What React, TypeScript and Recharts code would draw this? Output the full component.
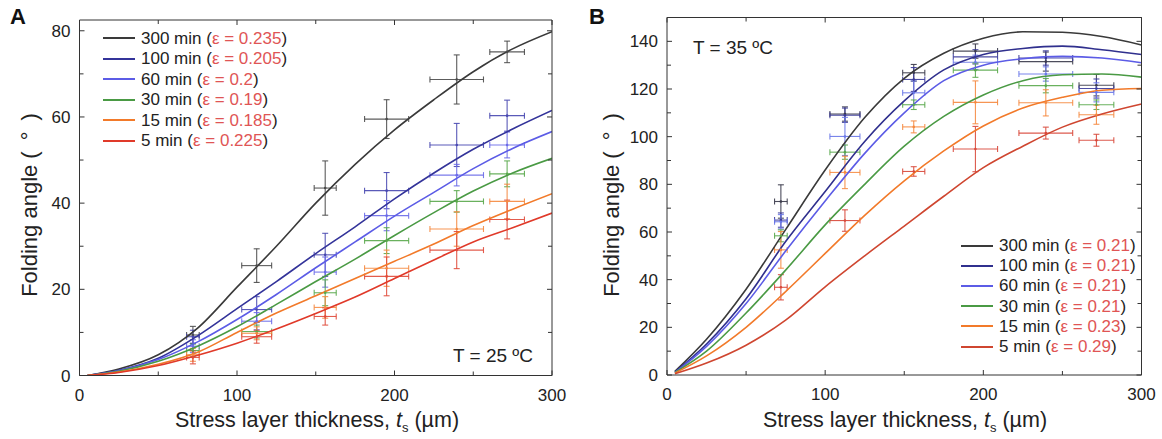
import React from 'react';
import { ComposedChart, Line, Scatter, ErrorBar, XAxis, YAxis } from 'recharts';

const FONT = '"Liberation Sans", Arial, Helvetica, sans-serif';
const TEXT = '#222';
const AXIS = '#333';
const EPS_RED = '#e05555';

const seriesLabels = ['300 min', '100 min', '60 min', '30 min', '15 min', '5 min'];
const epsilonA = ['0.235', '0.205', '0.2', '0.19', '0.185', '0.225'];
const epsilonB = ['0.21', '0.21', '0.21', '0.21', '0.23', '0.29'];

const colorsA = ['#3a3a3a', '#34349a', '#5c5ce6', '#4a9a44', '#f27a2a', '#e03a2a'];
const colorsB = ['#3a3a3a', '#30308e', '#5c5ce6', '#4a9a44', '#f27a2a', '#cf4630'];
const barColorsA = ['#4a4a4a', '#4848b0', '#6a6ae8', '#5aa84c', '#f58a40', '#e04a3a'];
const barColorsB = ['#3a3a4a', '#3a3a9a', '#6a78e8', '#5aa84c', '#f58a40', '#d8483a'];

const xTicks = [0, 50, 100, 150, 200, 250, 300];
const yTicksA = [0, 10, 20, 30, 40, 50, 60, 70, 80];
const yTicksB = [0, 10, 20, 30, 40, 50, 60, 70, 80, 90, 100, 110, 120, 130, 140, 150];

// model curves (x in µm)
const fitX = [5, 25, 50, 75, 100, 125, 150, 175, 200, 225, 250, 275, 300];
const fitA300 = [0, 1.5, 4.8, 11, 20.5, 30, 40, 49, 57, 64, 70.5, 75.8, 79.8];
const fitA100 = [0, 1.2, 4, 9.2, 15.5, 21.8, 28.3, 34.5, 41, 47, 52.5, 57.2, 61.5];
const fitA60 = [0, 1.1, 3.7, 7.8, 13, 18.8, 25, 31, 37, 42.5, 48, 52.7, 56.6];
const fitA30 = [0, 1, 3.3, 6.8, 11.3, 16.5, 21.8, 27, 32.5, 37.8, 42.8, 47, 50.4];
const fitA15 = [0, 0.8, 2.6, 5.4, 10, 14.5, 18.5, 22.5, 26.5, 30.5, 34.8, 38.6, 42.2];
const fitA5 = [0, 0.7, 2.3, 4.7, 7.5, 10.8, 14.4, 18.2, 22.5, 26.8, 31, 34.3, 37.7];

const fitB300 = [1.5, 15, 36, 61, 86, 108, 124.5, 135, 141.3, 144, 143.8, 142, 138.5];
const fitB100 = [1.2, 13, 32, 56, 77, 98, 115, 128, 134.5, 137, 138, 136.5, 134.5];
const fitB60 = [1, 12, 30, 52, 73, 93, 110, 123.5, 130, 132.7, 133.7, 133, 131];
const fitB30 = [1, 10, 26, 44, 63, 80, 96, 108.5, 117.5, 123.5, 126, 126.3, 125];
const fitB15 = [0.8, 8, 20, 35, 51, 67, 81.5, 94, 104.5, 112, 116.5, 119.5, 120.2];
const fitB5 = [0.5, 5, 12.5, 23, 37, 50, 62.5, 75, 87, 96, 104, 109.5, 113.7];

// measurements
const pointX = [72, 112.5, 156, 195, 239.5, 271.5];
const pointXErr = [4, 9.5, 7, 14, 17, 11];

const ptsA300 = [9.4, 25.5, 43.5, 59.5, 68.7, 75.1];
const errA300 = [2, 3.9, 6.3, 4.5, 5.7, 2.5];
const ptsA100 = [9.0, 15.3, 28, 42.9, 53.5, 60.3];
const errA100 = [1.5, 3, 5, 4.2, 5, 3.6];
const ptsA60 = [6.8, 12.6, 24, 37.1, 46.5, 53.5];
const errA60 = [1.5, 2, 3.5, 3.5, 2.5, 3];
const ptsA30 = [5.8, 10.2, 19.2, 31.3, 40.4, 46.8];
const errA30 = [1.5, 1.5, 3, 3, 2.5, 3];
const ptsA15 = [4.8, 9.8, 15.8, 24.9, 34, 40.4];
const errA15 = [1.5, 1.5, 2.5, 4.2, 4, 4];
const ptsA5 = [4.2, 9.0, 13.7, 23, 29.1, 36.2];
const errA5 = [1.5, 1.5, 2, 4.5, 4.3, 4.5];

const ptsB300 = [72.8, 109.5, 126.8, 135.9, 131.5, 121.6];
const errB300 = [7, 3, 3.5, 3, 4, 4.5];
const ptsB100 = [65, 109, 124, 133.5, 133, 120.2];
const errB100 = [3, 3, 5, 3, 3, 4];
const ptsB60 = [64.3, 100.1, 118.4, 131.2, 126.3, 118.6];
const errB60 = [3, 8, 5, 3, 3, 4];
const ptsB30 = [58.4, 93.5, 113.4, 127.9, 121.4, 113.4];
const errB30 = [2.5, 3, 2, 3, 3, 2];
const ptsB15 = [52.5, 85, 104.1, 114.4, 114.2, 109.2];
const errB15 = [7.7, 6.8, 2.5, 9, 5.5, 4];
const ptsB5 = [36.8, 64.8, 85.4, 94.8, 101.5, 98.5];
const errB5 = [5.3, 4.5, 2, 9.5, 2.5, 2.5];

const toFit = (ys: number[]) => fitX.map((x, i) => ({ x, y: ys[i] }));
const toPts = (ys: number[], es: number[]) =>
  pointX.map((x, i) => ({ x, y: ys[i], ey: es[i], ex: pointXErr[i] }));

const fitsA = [fitA300, fitA100, fitA60, fitA30, fitA15, fitA5].map(toFit);
const fitsB = [fitB300, fitB100, fitB60, fitB30, fitB15, fitB5].map(toFit);
const pointsA = [
  toPts(ptsA300, errA300), toPts(ptsA100, errA100), toPts(ptsA60, errA60),
  toPts(ptsA30, errA30), toPts(ptsA15, errA15), toPts(ptsA5, errA5),
];
const pointsB = [
  toPts(ptsB300, errB300), toPts(ptsB100, errB100), toPts(ptsB60, errB60),
  toPts(ptsB30, errB30), toPts(ptsB15, errB15), toPts(ptsB5, errB5),
];

const MAJOR_LEN = 5;
const MINOR_LEN = 4;

const bottomTick = (major: number) => (p: any) => {
  const v = p.payload.value;
  const isMajor = v % major === 0;
  return (
    <g>
      <line x1={p.x} x2={p.x} y1={p.y} y2={p.y - (isMajor ? MAJOR_LEN : MINOR_LEN)} stroke={AXIS} strokeWidth={1} />
      {isMajor && (
        <text x={p.x} y={p.y + 25} textAnchor="middle" fontSize={17} fill={TEXT} fontFamily={FONT}>
          {v}
        </text>
      )}
    </g>
  );
};
const topTick = (major: number) => (p: any) => {
  const v = p.payload.value;
  const isMajor = v % major === 0;
  return <line x1={p.x} x2={p.x} y1={p.y} y2={p.y + (isMajor ? MAJOR_LEN : MINOR_LEN)} stroke={AXIS} strokeWidth={1} />;
};
const leftTick = (major: number) => (p: any) => {
  const v = p.payload.value;
  const isMajor = v % major === 0;
  return (
    <g>
      <line x1={p.x} x2={p.x + (isMajor ? MAJOR_LEN : MINOR_LEN)} y1={p.y} y2={p.y} stroke={AXIS} strokeWidth={1} />
      {isMajor && (
        <text x={p.x - 9} y={p.y + 6} textAnchor="end" fontSize={17} fill={TEXT} fontFamily={FONT}>
          {v}
        </text>
      )}
    </g>
  );
};
const rightTick = (major: number) => (p: any) => {
  const v = p.payload.value;
  const isMajor = v % major === 0;
  return <line x1={p.x} x2={p.x - (isMajor ? MAJOR_LEN : MINOR_LEN)} y1={p.y} y2={p.y} stroke={AXIS} strokeWidth={1} />;
};

const dotShape = (color: string) => (p: any) => <circle cx={p.cx} cy={p.cy} r={1.3} fill={color} />;

type PanelProps = {
  width: number;
  height: number;
  plot: { top: number; right: number; bottom: number; left: number };
  yMax: number;
  yTicks: number[];
  fits: { x: number; y: number }[][];
  points: { x: number; y: number; ey: number; ex: number }[][];
  colors: string[];
  barColors: string[];
};

function Panel({ width, height, plot, yMax, yTicks, fits, points, colors, barColors }: PanelProps) {
  const axisLine = { stroke: AXIS, strokeWidth: 1 };
  // each axis takes 1px, so subtract it from the margins
  const margin = { top: plot.top - 1, right: plot.right - 1, bottom: plot.bottom - 1, left: plot.left - 1 };
  return (
    <ComposedChart width={width} height={height} margin={margin}>
      <XAxis xAxisId="b" type="number" dataKey="x" domain={[0, 300]} ticks={xTicks} interval={0}
        height={1} tickSize={0} tickMargin={0} axisLine={axisLine} tick={bottomTick(100)} allowDataOverflow />
      <XAxis xAxisId="t" orientation="top" type="number" dataKey="x" domain={[0, 300]} ticks={xTicks} interval={0}
        height={1} tickSize={0} tickMargin={0} axisLine={axisLine} tick={topTick(100)} allowDataOverflow />
      <YAxis yAxisId="l" type="number" domain={[0, yMax]} ticks={yTicks} interval={0}
        width={1} tickSize={0} tickMargin={0} axisLine={axisLine} tick={leftTick(20)} allowDataOverflow />
      <YAxis yAxisId="r" orientation="right" type="number" domain={[0, yMax]} ticks={yTicks} interval={0}
        width={1} tickSize={0} tickMargin={0} axisLine={axisLine} tick={rightTick(20)} allowDataOverflow />
      {points.map((pts, i) => (
        <Scatter key={'s' + i} xAxisId="b" yAxisId="l" data={pts} dataKey="y" fill={barColors[i]}
          isAnimationActive={false} shape={dotShape(barColors[i])}>
          <ErrorBar dataKey="ey" direction="y" width={3} stroke={barColors[i]} strokeWidth={1.1} strokeOpacity={0.9} isAnimationActive={false} />
          <ErrorBar dataKey="ex" direction="x" width={3} stroke={barColors[i]} strokeWidth={1.1} strokeOpacity={0.9} isAnimationActive={false} />
        </Scatter>
      ))}
      {fits.map((f, i) => (
        <Line key={'l' + i} xAxisId="b" yAxisId="l" data={f} dataKey="y" type="monotone" stroke={colors[i]}
          strokeWidth={1.6} dot={false} activeDot={false} isAnimationActive={false} />
      ))}
    </ComposedChart>
  );
}

function LegendBox({ left, top, rowH, lineW, colors, eps }: { left: number; top: number; rowH: number; lineW: number; colors: string[]; eps: string[] }) {
  return (
    <div style={{ position: 'absolute', left, top, fontFamily: FONT }}>
      {seriesLabels.map((s, i) => (
        <div key={s} style={{ display: 'flex', alignItems: 'center', height: rowH, whiteSpace: 'nowrap' }}>
          <div style={{ width: lineW, height: 0, borderTop: `2px solid ${colors[i]}`, marginRight: 6 }} />
          <span style={{ fontSize: 17, color: TEXT, lineHeight: 1 }}>
            {s} (<span style={{ color: EPS_RED }}>ε = {eps[i]}</span>)
          </span>
        </div>
      ))}
    </div>
  );
}

const abs = (left: number, top: number, extra: React.CSSProperties = {}): React.CSSProperties => ({
  position: 'absolute', left, top, fontFamily: FONT, color: TEXT, whiteSpace: 'nowrap', lineHeight: 1, ...extra,
});

function XTitle({ cx, cy }: { cx: number; cy: number }) {
  return (
    <div style={abs(cx, cy, { transform: 'translate(-50%, -50%)', fontSize: 21.5 })}>
      Stress layer thickness, <i>t</i>
      <span style={{ fontSize: 13, position: 'relative', top: 5 }}>s</span> (µm)
    </div>
  );
}

function YTitle({ cx, cy }: { cx: number; cy: number }) {
  return (
    <div style={abs(cx, cy, { transform: 'translate(-50%, -50%) rotate(-90deg)', fontSize: 22 })}>
      Folding angle (&ensp;°&ensp;)
    </div>
  );
}

export default function App() {
  return (
    <div style={{ position: 'absolute', left: 0, top: 0, width: 1162, height: 439, background: '#fff', overflow: 'hidden' }}>
      <div style={{ position: 'absolute', left: 0, top: 0 }}>
        <Panel width={580} height={439} plot={{ top: 20, right: 28, bottom: 63.5, left: 79.5 }}
          yMax={82.5} yTicks={yTicksA} fits={fitsA} points={pointsA} colors={colorsA} barColors={barColorsA} />
      </div>
      <div style={{ position: 'absolute', left: 580, top: 0 }}>
        <Panel width={582} height={439} plot={{ top: 17.5, right: 20.5, bottom: 64, left: 87 }}
          yMax={150} yTicks={yTicksB} fits={fitsB} points={pointsB} colors={colorsB} barColors={barColorsB} />
      </div>

      <div style={abs(10, 6, { fontSize: 22, fontWeight: 'bold', color: '#111' })}>A</div>
      <div style={abs(589, 6, { fontSize: 22, fontWeight: 'bold', color: '#111' })}>B</div>

      <LegendBox left={103} top={28} rowH={20.5} lineW={32} colors={colorsA} eps={epsilonA} />
      <LegendBox left={961} top={235.5} rowH={20.2} lineW={32} colors={colorsB} eps={epsilonB} />

      <div style={abs(453, 346, { fontSize: 19 })}>T = 25 ºC</div>
      <div style={abs(693, 38, { fontSize: 19 })}>T = 35 ºC</div>

      <XTitle cx={317} cy={421} />
      <XTitle cx={905} cy={421} />
      <YTitle cx={30} cy={205} />
      <YTitle cx={612} cy={205} />
    </div>
  );
}
